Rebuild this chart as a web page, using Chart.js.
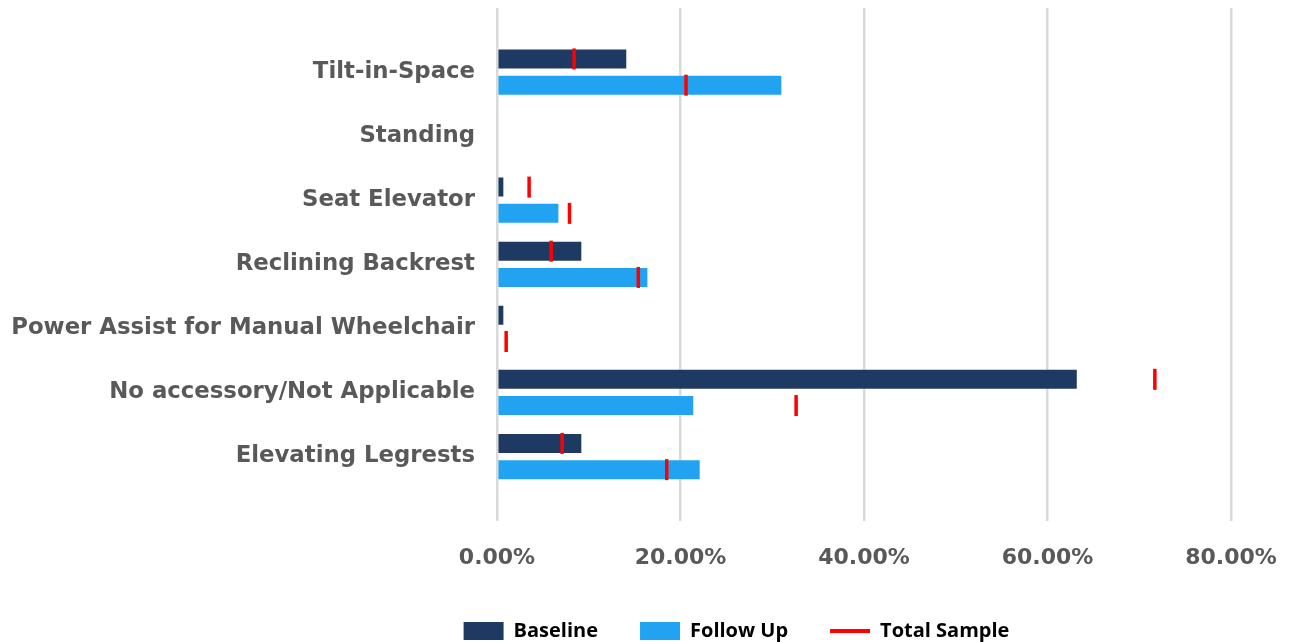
<!DOCTYPE html>
<html>
<head>
<meta charset="utf-8">
<script src="https://cdn.jsdelivr.net/npm/chart.js@4"></script>
<style>
  html, body { margin: 0; padding: 0; background: #fff; }
  #wrap { width: 1289px; height: 642px; }
</style>
</head>
<body>
<div id="wrap"><canvas id="myChart"></canvas></div>
<script>
// data (percent)
const categories = ["Tilt-in-Space", "Standing", "Seat Elevator", "Reclining Backrest",
  "Power Assist for Manual Wheelchair", "No accessory/Not Applicable", "Elevating Legrests"]
const baseline = [14.2, 0, 0.8, 9.3, 0.8, 63.3, 9.3]
const followUp = [31.1, 0, 6.8, 16.5, 0, 21.5, 22.2]
const totalBaseline = [8.4, null, 3.5, 5.9, null, 71.7, 7.1]
const totalFollowUp = [20.6, null, 7.9, 15.4, 1.0, 32.6, 18.5]
const xTicks = [0, 20, 40, 60, 80]

// one empty slot above and below, like the excel plot area
const yLabels = [""].concat(categories, [""])

const navy = "#1f3a62"
const sky = "#21a3f1"
const red = "#ff0000"

function barData(arr) {
  return arr.map((v, i) => ({ x: v, y: categories[i] }))
}

// red "total sample" ticks drawn on each bar, x from the x scale
const totalMarks = {
  id: "totalMarks",
  afterDatasetsDraw(chart) {
    const ctx = chart.ctx
    const xs = chart.scales.x
    const sets = [totalBaseline, totalFollowUp]
    ctx.save()
    ctx.strokeStyle = red
    ctx.lineWidth = 3.5
    sets.forEach((vals, d) => {
      const meta = chart.getDatasetMeta(d)
      vals.forEach((v, i) => {
        if (v === null) return
        const bar = meta.data[i]
        const x = xs.getPixelForValue(v)
        ctx.beginPath()
        ctx.moveTo(x, bar.y - bar.height / 2)
        ctx.lineTo(x, bar.y + bar.height / 2)
        ctx.stroke()
      })
    })
    ctx.restore()
  }
}

const chart = new Chart("myChart", {
  type: "bar",
  data: {
    labels: yLabels,
    datasets: [{
        label: "Baseline",
        data: barData(baseline),
        backgroundColor: navy,
        borderColor: "rgba(255,255,255,0.4)",
        borderWidth: 1,
        categoryPercentage: 0.82,
        barPercentage: 0.8
      }, {
        label: "Follow Up",
        data: barData(followUp),
        backgroundColor: sky,
        borderColor: "rgba(255,255,255,0.4)",
        borderWidth: 1,
        categoryPercentage: 0.82,
        barPercentage: 0.8
      }
    ]
  },
  plugins: [totalMarks],
  options: {
    indexAxis: "y",
    responsive: true,
    maintainAspectRatio: false,
    animation: false,
    layout: { padding: { top: 8, left: 0, right: 0, bottom: -9 } },
    scales: {
      x: {
        type: "linear",
        min: 0,
        max: 80,
        afterBuildTicks: (s) => { s.ticks = xTicks.map(v => ({ value: v })) },
        // tighter gap down to the legend, room on the right for "80.00%"
        afterFit: (s) => {
          s.height -= 16
          s.paddingRight = 58
        },
        grid: { color: "#d9d9d9", lineWidth: 2.5, drawTicks: false },
        border: { display: false },
        ticks: {
          padding: 24,
          color: "#595959",
          font: { family: "DejaVu Sans", size: 22, weight: "bold" },
          callback: (v) => v.toFixed(2) + "%"
        }
      },
      y: {
        type: "category",
        offset: false,
        grid: { display: false, drawTicks: false },
        border: { display: false },
        // fixed label column; the empty end slots need no label room
        afterFit: (s) => {
          s.width = 497
          s.paddingTop = 0
          s.paddingBottom = 0
        },
        ticks: {
          padding: 22,
          color: "#595959",
          autoSkip: false,
          font: { family: "DejaVu Sans", size: 22.8, weight: "bold" }
        }
      }
    },
    plugins: {
      tooltip: { enabled: false },
      legend: {
        position: "bottom",
        labels: {
          usePointStyle: true,
          pointStyleWidth: 40,
          boxWidth: 40,
          boxHeight: 18,
          padding: 42,
          color: "#000",
          font: { family: "Open Sans", size: 20, weight: "bold" },
          generateLabels: () => [
            // blank items on the left push the legend right, as in the original
            { text: "", fillStyle: "rgba(0,0,0,0)", strokeStyle: "rgba(0,0,0,0)", lineWidth: 0, pointStyle: "rect" },
            { text: "", fillStyle: "rgba(0,0,0,0)", strokeStyle: "rgba(0,0,0,0)", lineWidth: 0, pointStyle: "rect" },
            { text: "Baseline", fillStyle: navy, strokeStyle: navy, lineWidth: 0, pointStyle: "rect", datasetIndex: 0 },
            { text: "Follow Up", fillStyle: sky, strokeStyle: sky, lineWidth: 0, pointStyle: "rect", datasetIndex: 1 },
            { text: "Total Sample", fillStyle: red, strokeStyle: red, lineWidth: 4, pointStyle: "line" }
          ]
        }
      }
    }
  }
})
</script>
</body>
</html>
